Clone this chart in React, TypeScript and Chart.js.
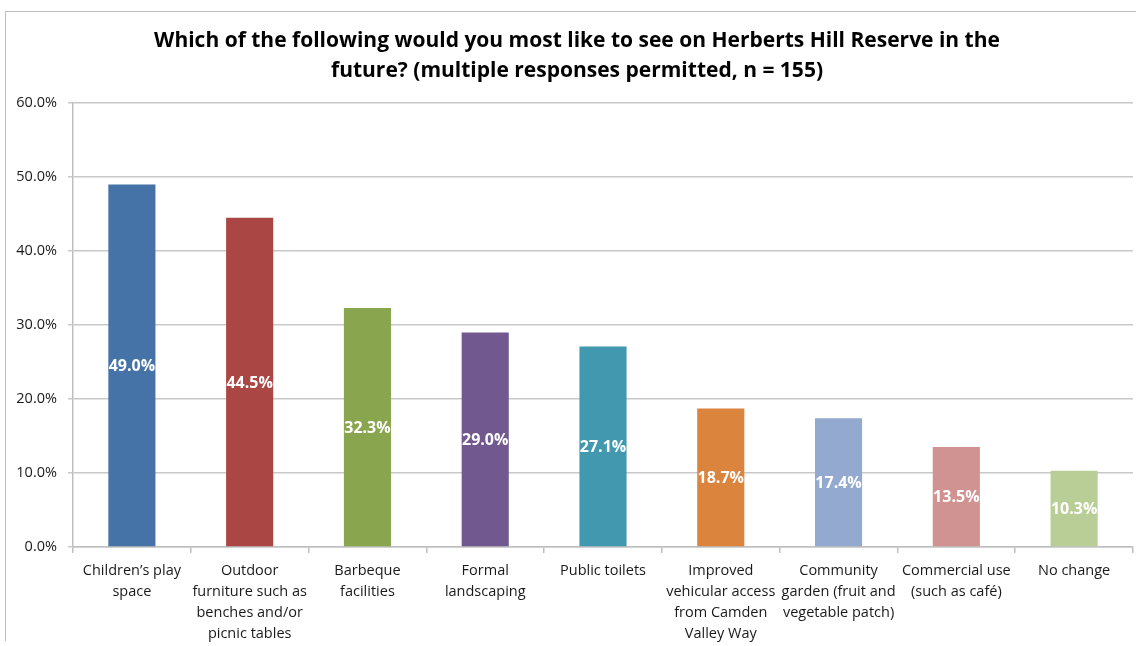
import React, { useEffect, useRef } from "react";
import { Chart, registerables } from "chart.js";

Chart.register(...registerables);

const titleLines = [
  "Which of the following would you most like to see on Herberts Hill Reserve in the",
  "future? (multiple responses permitted, n = 155)",
];

const categories: string[][] = [
  ["Children\u2019s play", "space"],
  ["Outdoor", "furniture such as", "benches and/or", "picnic tables"],
  ["Barbeque", "facilities"],
  ["Formal", "landscaping"],
  ["Public toilets"],
  ["Improved", "vehicular access", "from Camden", "Valley Way"],
  ["Community", "garden (fruit and", "vegetable patch)"],
  ["Commercial use", "(such as caf\u00e9)"],
  ["No change"],
];

const values = [49.0, 44.5, 32.3, 29.0, 27.1, 18.7, 17.4, 13.5, 10.3];

const barColors = [
  "#4572A7",
  "#AA4643",
  "#89A54E",
  "#71588F",
  "#4198AF",
  "#DB843D",
  "#93A9CF",
  "#D19392",
  "#B9CD96",
];

const yTicks = [0, 10, 20, 30, 40, 50, 60];

const FONT = "'Open Sans', 'Noto Sans', sans-serif";

const overlayPlugin = {
  id: "overlay",
  afterDatasetsDraw(chart: any) {
    const ctx = chart.ctx;
    ctx.save();
    // data labels
    const meta = chart.getDatasetMeta(0);
    ctx.fillStyle = "#ffffff";
    ctx.font = `bold 16px ${FONT}`;
    ctx.textAlign = "center";
    ctx.textBaseline = "middle";
    meta.data.forEach((bar: any, i: number) => {
      const { x, y, base } = bar.getProps(["x", "y", "base"], true);
      ctx.fillText(values[i].toFixed(1) + "%", x, (y + base) / 2 + 1);
    });
    // title
    ctx.fillStyle = "#000000";
    ctx.font = `bold 21px ${FONT}`;
    titleLines.forEach((t, i) => {
      ctx.fillText(t, 577, 41 + i * 30);
    });
    ctx.restore();
  },
};

export default function App() {
  const ref = useRef<HTMLCanvasElement>(null);

  useEffect(() => {
    if (!ref.current) return;
    const chart = new Chart(ref.current, {
      type: "bar",
      data: {
        labels: categories,
        datasets: [
          {
            data: values,
            backgroundColor: barColors,
            borderWidth: 0,
            barPercentage: 0.4,
            categoryPercentage: 1,
          },
        ],
      },
      options: {
        animation: false,
        responsive: false,
        maintainAspectRatio: false,
        layout: { padding: { top: 103, left: 0, right: 3, bottom: 0 } },
        plugins: {
          legend: { display: false },
          tooltip: { enabled: false },
          title: { display: false },
        },
        scales: {
          x: {
            grid: {
              display: true,
              drawOnChartArea: false,
              drawTicks: true,
              tickLength: 6,
              color: "#bfbfbf",
              lineWidth: 1.5,
              offset: true,
            },
            border: { display: true, color: "#bfbfbf", width: 1.5 },
            ticks: {
              color: "#1a1a1a",
              font: { family: FONT, size: 14.5, lineHeight: 1.45 },
              maxRotation: 0,
              minRotation: 0,
              autoSkip: false,
              padding: 7,
            },
            afterFit(scale: any) {
              scale.height = 99;
            },
          },
          y: {
            min: 0,
            max: 60,
            afterBuildTicks(scale: any) {
              scale.ticks = yTicks.map((v) => ({ value: v }));
            },
            grid: {
              color: "#c8c8c8",
              lineWidth: 1.5,
              tickLength: 5,
            },
            border: { display: true, color: "#bfbfbf", width: 1.5 },
            ticks: {
              color: "#1a1a1a",
              font: { family: FONT, size: 14.5 },
              padding: 11,
              callback: (v: any) => Number(v).toFixed(1) + "%",
            },
            afterFit(scale: any) {
              scale.width = 73;
            },
          },
        },
      },
      plugins: [overlayPlugin],
    });
    return () => chart.destroy();
  }, []);

  return (
    <div
      style={{
        position: "fixed",
        left: 0,
        top: 0,
        width: 1136,
        height: 646,
        overflow: "hidden",
        background: "#ffffff",
      }}
    >
      <div
        style={{
          position: "absolute",
          left: 5,
          top: 11,
          width: 1300,
          height: 629,
          borderLeft: "1.5px solid #bdbdbd",
          borderTop: "1.5px solid #bdbdbd",
        }}
      />
      <canvas
        ref={ref}
        width={1136}
        height={646}
        style={{ position: "absolute", left: 0, top: 0, width: 1136, height: 646 }}
      />
    </div>
  );
}
